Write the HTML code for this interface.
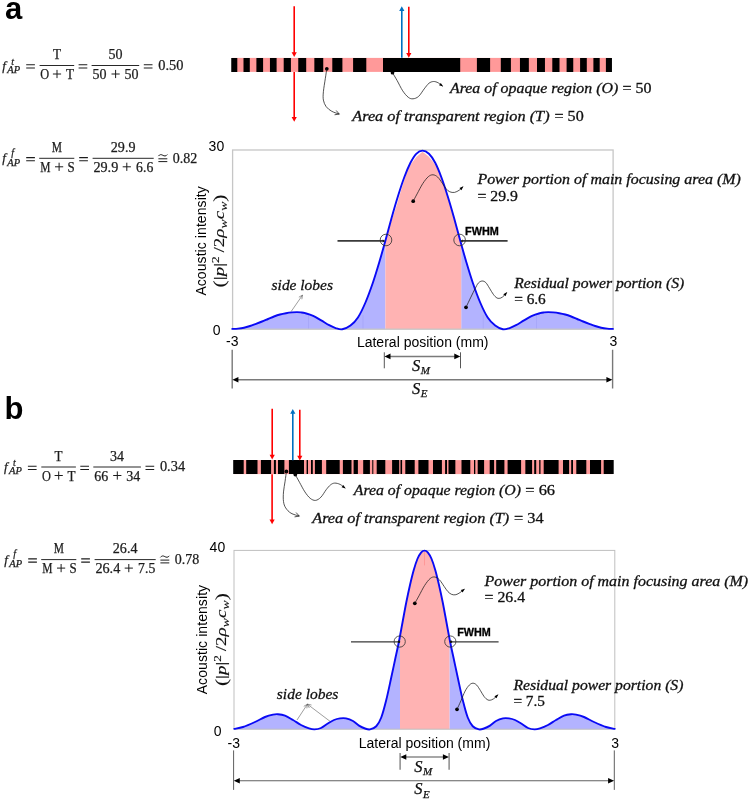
<!DOCTYPE html>
<html>
<head>
<meta charset="utf-8">
<title>Figure</title>
<style>
html, body { margin: 0; padding: 0; background: #ffffff; }
body { width: 750px; height: 800px; overflow: hidden; font-family: "Liberation Sans", sans-serif; }
svg { display: block; will-change: transform; }
text { white-space: pre; }
</style>
</head>
<body>
<svg width="750" height="800" viewBox="0 0 750 800">
<rect x="0" y="0" width="750" height="800" fill="#ffffff"/>
<rect x="232.25" y="57.9" width="378.7" height="14" fill="#ff9999"/>
<path d="M231.25 57.9H237.3V71.9H231.25ZM243.5 57.9H249.8V71.9H243.5ZM256.4 57.9H263.1V71.9H256.4ZM269.95 57.9H276.6V71.9H269.95ZM283.7 57.9H290.9V71.9H283.7ZM298.25 57.9H306.2V71.9H298.25ZM314.35 57.9H323.25V71.9H314.35ZM332.3 57.9H342.4V71.9H332.3ZM353.1 57.9H366.3V71.9H353.1ZM383 57.9H460.2V71.9H383ZM476.9 57.9H490.1V71.9H476.9ZM500.8 57.9H510.9V71.9H500.8ZM519.95 57.9H528.85V71.9H519.95ZM537 57.9H544.95V71.9H537ZM552.3 57.9H559.5V71.9H552.3ZM566.6 57.9H573.25V71.9H566.6ZM580.1 57.9H586.8V71.9H580.1ZM593.4 57.9H599.7V71.9H593.4ZM605.9 57.9H611.95V71.9H605.9Z" fill="#000"/>
<rect x="234.2" y="460.1" width="378.5" height="14" fill="#ff9999"/>
<path d="M233.2 460.1H243.7V474.1H233.2ZM246.2 460.1H257.5V474.1H246.2ZM260.9 460.1H271.1V474.1H260.9ZM273.9 460.1H275.9V474.1H273.9ZM278 460.1H284.4V474.1H278ZM288.9 460.1H304V474.1H288.9ZM306.6 460.1H308V474.1H306.6ZM311 460.1H312.8V474.1H311ZM314.9 460.1H321.9V474.1H314.9ZM326.2 460.1H339.7V474.1H326.2ZM342.9 460.1H351.5V474.1H342.9ZM353.6 460.1H357.9V474.1H353.6ZM363.2 460.1H369.9V474.1H363.2ZM372.3 460.1H373.3V474.1H372.3ZM376.7 460.1H385.3V474.1H376.7ZM392.1 460.1H399.2V474.1H392.1ZM400.5 460.1H402.1V474.1H400.5ZM405.3 460.1H414.7V474.1H405.3ZM418.4 460.1H428.5V474.1H418.4ZM433 460.1H441.9V474.1H433ZM445.1 460.1H447V474.1H445.1ZM448.5 460.1H455.35V474.1H448.5ZM461.5 460.1H470.3V474.1H461.5ZM474 460.1H475.3V474.1H474ZM477.7 460.1H484.1V474.1H477.7ZM489.7 460.1H494.1V474.1H489.7ZM496.2 460.1H504.4V474.1H496.2ZM507.6 460.1H521.1V474.1H507.6ZM525.35 460.1H532.1V474.1H525.35ZM534.2 460.1H536.2V474.1H534.2ZM539.2 460.1H540.5V474.1H539.2ZM543.7 460.1H558.6V474.1H543.7ZM563 460.1H569.1V474.1H563ZM571.2 460.1H573V474.1H571.2ZM576.3 460.1H586.3V474.1H576.3ZM590 460.1H601.1V474.1H590ZM603.7 460.1H613.7V474.1H603.7Z" fill="#000"/>
<path d="M294.2 6.2V54.18" stroke="#ff0000" stroke-width="1.6" fill="none"/>
<path d="M294.2 57L291.6 52.3L296.8 52.3Z" fill="#ff0000"/>
<path d="M294.2 72V118.98" stroke="#ff0000" stroke-width="1.6" fill="none"/>
<path d="M294.2 121.8L291.6 117.1L296.8 117.1Z" fill="#ff0000"/>
<path d="M401.8 57.8V9.12" stroke="#0070c0" stroke-width="1.6" fill="none"/>
<path d="M401.8 6.3L399.2 11L404.4 11Z" fill="#0070c0"/>
<path d="M408.8 6.8V54.98" stroke="#ff0000" stroke-width="1.6" fill="none"/>
<path d="M408.8 57.8L406.2 53.1L411.4 53.1Z" fill="#ff0000"/>
<path d="M272.2 408.8V456.58" stroke="#ff0000" stroke-width="1.6" fill="none"/>
<path d="M272.2 459.4L269.6 454.7L274.8 454.7Z" fill="#ff0000"/>
<path d="M272.1 474.2V521.38" stroke="#ff0000" stroke-width="1.6" fill="none"/>
<path d="M272.1 524.2L269.5 519.5L274.7 519.5Z" fill="#ff0000"/>
<path d="M292.8 460.2V411.82" stroke="#0070c0" stroke-width="1.6" fill="none"/>
<path d="M292.8 409L290.2 413.7L295.4 413.7Z" fill="#0070c0"/>
<path d="M299.8 409.8V457.58" stroke="#ff0000" stroke-width="1.6" fill="none"/>
<path d="M299.8 460.4L297.2 455.7L302.4 455.7Z" fill="#ff0000"/>
<path d="M232.3 328.9L232.64 328.88L233.07 328.87L233.58 328.85L234.16 328.83L234.78 328.81L235.42 328.78L236.09 328.74L236.75 328.7L237.39 328.66L238 328.6L238.59 328.54L239.18 328.47L239.78 328.4L240.38 328.32L240.98 328.24L241.59 328.15L242.19 328.05L242.8 327.94L243.4 327.83L244 327.7L244.6 327.56L245.2 327.42L245.8 327.26L246.4 327.1L247 326.93L247.6 326.75L248.2 326.57L248.8 326.38L249.4 326.19L250 326L250.6 325.8L251.2 325.59L251.8 325.38L252.4 325.16L253 324.94L253.6 324.71L254.2 324.48L254.8 324.25L255.4 324.03L256 323.8L256.6 323.57L257.2 323.35L257.8 323.12L258.4 322.9L259 322.67L259.6 322.44L260.2 322.21L260.8 321.97L261.4 321.74L262 321.5L262.6 321.26L263.2 321.01L263.8 320.76L264.4 320.51L265 320.26L265.6 320.01L266.2 319.76L266.8 319.5L267.4 319.25L268 319L268.6 318.75L269.2 318.49L269.8 318.23L270.4 317.98L271 317.72L271.6 317.46L272.2 317.21L272.8 316.97L273.4 316.73L274 316.5L274.6 316.28L275.2 316.06L275.8 315.84L276.4 315.63L277 315.43L277.6 315.23L278.2 315.03L278.8 314.85L279.4 314.67L280 314.5L280.6 314.34L281.2 314.19L281.8 314.04L282.4 313.91L283 313.77L283.6 313.65L284.2 313.53L284.8 313.42L285.4 313.31L286 313.2L286.6 313.1L287.22 313L287.83 312.91L288.45 312.82L289.06 312.74L289.67 312.66L290.27 312.59L290.86 312.52L291.44 312.46L292 312.4L292.55 312.35L293.08 312.3L293.6 312.25L294.12 312.22L294.62 312.18L295.12 312.15L295.6 312.13L296.08 312.11L296.55 312.1L297 312.1L297.44 312.1L297.86 312.11L298.27 312.13L298.66 312.15L299.05 312.18L299.43 312.22L299.82 312.25L300.2 312.3L300.6 312.35L301 312.4L301.39 312.45L301.77 312.5L302.13 312.54L302.48 312.59L302.85 312.65L303.24 312.72L303.65 312.8L304.11 312.91L304.63 313.04L305.2 313.2L305.85 313.38L306.56 313.59L307.32 313.81L308.13 314.06L308.96 314.32L309.82 314.6L310.68 314.9L311.54 315.21L312.38 315.55L313.2 315.9L314 316.28L314.8 316.68L315.6 317.11L316.4 317.56L317.2 318.02L318 318.49L318.8 318.97L319.6 319.45L320.4 319.93L321.2 320.4L322.01 320.88L322.83 321.37L323.65 321.88L324.48 322.39L325.3 322.9L326.12 323.4L326.92 323.89L327.7 324.36L328.46 324.8L329.2 325.2L329.9 325.57L330.58 325.93L331.23 326.26L331.86 326.58L332.48 326.88L333.1 327.15L333.71 327.41L334.33 327.66L334.96 327.89L335.6 328.1L336.25 328.31L336.9 328.53L337.54 328.74L338.19 328.94L338.84 329.11L339.5 329.25L340.17 329.35L340.86 329.4L341.57 329.39L342.3 329.3L343.06 329.15L343.85 328.94L344.66 328.69L345.49 328.38L346.32 328.03L347.17 327.63L348.01 327.19L348.84 326.7L349.65 326.17L350.45 325.6L351.23 325L351.99 324.37L352.75 323.71L353.5 323.01L354.24 322.26L354.98 321.45L355.72 320.58L356.46 319.63L357.2 318.61L357.95 317.5L358.7 316.3L359.45 315.02L360.2 313.66L360.95 312.24L361.7 310.74L362.45 309.19L363.2 307.58L363.95 305.93L364.7 304.23L365.45 302.5L366.21 300.7L366.97 298.82L367.74 296.87L368.51 294.86L369.28 292.81L370.04 290.74L370.79 288.66L371.53 286.58L372.25 284.52L372.95 282.5L373.63 280.51L374.28 278.53L374.92 276.56L375.54 274.6L376.15 272.62L376.76 270.64L377.36 268.65L377.97 266.63L378.58 264.58L379.2 262.5L379.83 260.39L380.45 258.24L381.07 256.08L381.7 253.89L382.32 251.69L382.95 249.47L383.57 247.24L384.2 245L384.83 242.75L385.4 240.5L385.4 329.2L232.3 329.2Z" fill="#b3b3ff"/>
<path d="M461.2 240.5L461.45 245L462.07 247.24L462.7 249.47L463.33 251.69L463.95 253.89L464.57 256.08L465.2 258.24L465.83 260.39L466.45 262.5L467.07 264.58L467.68 266.63L468.29 268.65L468.89 270.64L469.5 272.62L470.11 274.6L470.73 276.56L471.37 278.53L472.02 280.51L472.7 282.5L473.4 284.52L474.12 286.58L474.86 288.66L475.61 290.74L476.37 292.81L477.14 294.86L477.91 296.87L478.68 298.82L479.44 300.7L480.2 302.5L480.95 304.23L481.7 305.93L482.45 307.58L483.2 309.19L483.95 310.74L484.7 312.24L485.45 313.66L486.2 315.02L486.95 316.3L487.7 317.5L488.45 318.61L489.2 319.63L489.94 320.58L490.69 321.45L491.44 322.26L492.19 323.01L492.94 323.71L493.69 324.37L494.44 325L495.2 325.6L495.97 326.17L496.74 326.7L497.53 327.19L498.31 327.63L499.1 328.03L499.88 328.38L500.66 328.69L501.42 328.94L502.17 329.15L502.9 329.3L503.61 329.39L504.31 329.4L504.99 329.35L505.67 329.25L506.33 329.11L506.99 328.94L507.64 328.74L508.3 328.53L508.95 328.31L509.6 328.1L510.24 327.89L510.87 327.66L511.49 327.41L512.1 327.15L512.72 326.88L513.34 326.58L513.97 326.26L514.62 325.93L515.3 325.57L516 325.2L516.74 324.8L517.5 324.36L518.28 323.89L519.08 323.4L519.9 322.9L520.72 322.39L521.55 321.88L522.37 321.37L523.19 320.88L524 320.4L524.8 319.93L525.6 319.45L526.4 318.97L527.2 318.49L528 318.02L528.8 317.56L529.6 317.11L530.4 316.68L531.2 316.28L532 315.9L532.82 315.55L533.66 315.21L534.52 314.9L535.38 314.6L536.24 314.32L537.07 314.06L537.88 313.81L538.64 313.59L539.35 313.38L540 313.2L540.57 313.04L541.09 312.91L541.55 312.8L541.96 312.72L542.35 312.65L542.72 312.59L543.07 312.54L543.43 312.5L543.81 312.45L544.2 312.4L544.6 312.35L545 312.3L545.38 312.25L545.77 312.22L546.15 312.18L546.54 312.15L546.93 312.13L547.34 312.11L547.76 312.1L548.2 312.1L548.66 312.1L549.12 312.11L549.6 312.13L550.08 312.15L550.58 312.18L551.08 312.22L551.6 312.25L552.12 312.3L552.65 312.35L553.2 312.4L553.76 312.46L554.34 312.52L554.93 312.59L555.53 312.66L556.14 312.74L556.75 312.82L557.37 312.91L557.98 313L558.6 313.1L559.2 313.2L559.8 313.31L560.4 313.42L561 313.53L561.6 313.65L562.2 313.77L562.8 313.91L563.4 314.04L564 314.19L564.6 314.34L565.2 314.5L565.8 314.67L566.4 314.85L567 315.03L567.6 315.23L568.2 315.43L568.8 315.63L569.4 315.84L570 316.06L570.6 316.28L571.2 316.5L571.8 316.73L572.4 316.97L573 317.21L573.6 317.46L574.2 317.72L574.8 317.98L575.4 318.23L576 318.49L576.6 318.75L577.2 319L577.8 319.25L578.4 319.5L579 319.76L579.6 320.01L580.2 320.26L580.8 320.51L581.4 320.76L582 321.01L582.6 321.26L583.2 321.5L583.8 321.74L584.4 321.97L585 322.21L585.6 322.44L586.2 322.67L586.8 322.9L587.4 323.12L588 323.35L588.6 323.57L589.2 323.8L589.8 324.03L590.4 324.25L591 324.48L591.6 324.71L592.2 324.94L592.8 325.16L593.4 325.38L594 325.59L594.6 325.8L595.2 326L595.8 326.19L596.4 326.38L597 326.57L597.6 326.75L598.2 326.93L598.8 327.1L599.4 327.26L600 327.42L600.6 327.56L601.2 327.7L601.8 327.83L602.4 327.94L603.01 328.05L603.61 328.15L604.22 328.24L604.82 328.32L605.42 328.4L606.02 328.47L606.61 328.54L607.2 328.6L607.81 328.66L608.45 328.7L609.11 328.74L609.78 328.78L610.43 328.81L611.04 328.83L611.62 328.85L612.13 328.87L612.56 328.88L612.9 328.9L612.9 329.2L461.2 329.2Z" fill="#b3b3ff"/>
<path d="M308.4 315.2V329.2" stroke="#9c9cf2" stroke-width="0.7" opacity="0.7"/>
<path d="M363 315.2V329.2" stroke="#9c9cf2" stroke-width="0.7" opacity="0.7"/>
<path d="M483.2 315.2V329.2" stroke="#9c9cf2" stroke-width="0.7" opacity="0.7"/>
<path d="M536.6 315.2V329.2" stroke="#9c9cf2" stroke-width="0.7" opacity="0.7"/>
<path d="M385.4 329.2L385.4 240.5L390.4 224L396.8 205L402.2 186.5L407.4 170.5L411.6 163.2L416.4 157L422.5 151.8L428.6 156.6L433.4 162.2L438 168.6L443.5 184L449.5 203.5L455.6 224.5L461.2 240.5L461.2 329.2Z" fill="#ffb3b3"/>
<rect x="232.6" y="150" width="380.5" height="179.2" fill="none" stroke="#c6c6c6" stroke-width="1.3"/>
<path d="M232.3 328.9C233.25 328.85 236.05 328.8 238 328.6C239.95 328.4 242 328.13 244 327.7C246 327.27 248 326.65 250 326C252 325.35 254 324.55 256 323.8C258 323.05 260 322.3 262 321.5C264 320.7 266 319.83 268 319C270 318.17 272 317.25 274 316.5C276 315.75 278 315.05 280 314.5C282 313.95 284 313.55 286 313.2C288 312.85 290.17 312.58 292 312.4C293.83 312.22 295.5 312.1 297 312.1C298.5 312.1 299.63 312.22 301 312.4C302.37 312.58 303.17 312.62 305.2 313.2C307.23 313.78 310.53 314.7 313.2 315.9C315.87 317.1 318.53 318.85 321.2 320.4C323.87 321.95 326.8 323.92 329.2 325.2C331.6 326.48 333.42 327.42 335.6 328.1C337.78 328.78 339.83 329.72 342.3 329.3C344.77 328.88 347.84 327.57 350.45 325.6C353.06 323.63 355.45 321.35 357.95 317.5C360.45 313.65 362.95 308.33 365.45 302.5C367.95 296.67 370.66 289.17 372.95 282.5C375.24 275.83 377.12 269.5 379.2 262.5C381.28 255.5 383.37 248 385.45 240.5C387.53 233 389.62 224.88 391.7 217.5C393.78 210.12 395.87 202.92 397.95 196.25C400.03 189.58 402.12 183.07 404.2 177.5C406.28 171.93 408.44 166.75 410.45 162.8C412.46 158.85 414.24 155.83 416.25 153.8C418.26 151.77 420.38 150.6 422.5 150.6C424.62 150.6 426.83 151.77 428.95 153.8C431.07 155.83 433.12 158.85 435.2 162.8C437.28 166.75 439.37 171.93 441.45 177.5C443.53 183.07 445.62 189.58 447.7 196.25C449.78 202.92 451.87 210.12 453.95 217.5C456.03 224.88 458.12 233 460.2 240.5C462.28 248 464.37 255.5 466.45 262.5C468.53 269.5 470.41 275.83 472.7 282.5C474.99 289.17 477.7 296.67 480.2 302.5C482.7 308.33 485.2 313.65 487.7 317.5C490.2 321.35 492.67 323.63 495.2 325.6C497.73 327.57 500.5 328.88 502.9 329.3C505.3 329.72 507.42 328.78 509.6 328.1C511.78 327.42 513.6 326.48 516 325.2C518.4 323.92 521.33 321.95 524 320.4C526.67 318.85 529.33 317.1 532 315.9C534.67 314.7 537.97 313.78 540 313.2C542.03 312.62 542.83 312.58 544.2 312.4C545.57 312.22 546.7 312.1 548.2 312.1C549.7 312.1 551.37 312.22 553.2 312.4C555.03 312.58 557.2 312.85 559.2 313.2C561.2 313.55 563.2 313.95 565.2 314.5C567.2 315.05 569.2 315.75 571.2 316.5C573.2 317.25 575.2 318.17 577.2 319C579.2 319.83 581.2 320.7 583.2 321.5C585.2 322.3 587.2 323.05 589.2 323.8C591.2 324.55 593.2 325.35 595.2 326C597.2 326.65 599.2 327.27 601.2 327.7C603.2 328.13 605.25 328.4 607.2 328.6C609.15 328.8 611.95 328.85 612.9 328.9" fill="none" stroke="#0a0af5" stroke-width="1.9" stroke-linejoin="round" stroke-linecap="round"/>
<path d="M234.3 728.9L234.8 728.8L235.43 728.69L236.17 728.57L237 728.43L237.9 728.26L238.86 728.07L239.87 727.86L240.91 727.61L241.96 727.32L243 727L244.08 726.63L245.22 726.2L246.42 725.73L247.66 725.22L248.92 724.69L250.19 724.15L251.44 723.6L252.68 723.05L253.87 722.51L255 722L256.09 721.49L257.16 720.96L258.21 720.42L259.24 719.88L260.25 719.34L261.24 718.81L262.21 718.31L263.16 717.83L264.09 717.39L265 717L265.89 716.65L266.78 716.32L267.64 716.03L268.49 715.76L269.31 715.51L270.11 715.29L270.88 715.09L271.62 714.91L272.33 714.75L273 714.6L273.61 714.47L274.16 714.36L274.66 714.28L275.12 714.21L275.56 714.16L276 714.13L276.45 714.12L276.92 714.13L277.43 714.16L278 714.2L278.61 714.25L279.26 714.32L279.92 714.39L280.61 714.49L281.31 714.6L282.03 714.74L282.76 714.9L283.5 715.1L284.25 715.33L285 715.6L285.76 715.92L286.54 716.28L287.33 716.68L288.13 717.12L288.94 717.58L289.75 718.05L290.57 718.54L291.38 719.03L292.2 719.52L293 720L293.8 720.48L294.6 720.99L295.4 721.51L296.2 722.03L297 722.56L297.8 723.09L298.6 723.6L299.4 724.09L300.2 724.56L301 725L301.81 725.42L302.64 725.82L303.48 726.21L304.32 726.59L305.16 726.95L305.98 727.29L306.78 727.61L307.56 727.9L308.3 728.16L309 728.4L309.65 728.61L310.24 728.79L310.8 728.95L311.33 729.09L311.84 729.2L312.35 729.29L312.86 729.35L313.38 729.39L313.92 729.41L314.5 729.4L315.11 729.37L315.74 729.32L316.39 729.24L317.05 729.14L317.72 729.01L318.39 728.86L319.06 728.69L319.72 728.48L320.37 728.26L321 728L321.62 727.71L322.22 727.37L322.81 726.99L323.39 726.59L323.97 726.16L324.55 725.72L325.14 725.28L325.74 724.84L326.36 724.41L327 724L327.66 723.59L328.35 723.16L329.06 722.72L329.78 722.28L330.5 721.85L331.22 721.43L331.94 721.02L332.65 720.65L333.34 720.3L334 720L334.64 719.74L335.26 719.5L335.87 719.29L336.47 719.11L337.06 718.95L337.65 718.81L338.23 718.69L338.82 718.58L339.4 718.48L340 718.4L340.6 718.32L341.18 718.26L341.77 718.2L342.35 718.16L342.94 718.14L343.53 718.14L344.13 718.16L344.74 718.21L345.36 718.29L346 718.4L346.66 718.55L347.35 718.72L348.06 718.93L348.78 719.16L349.5 719.41L350.22 719.69L350.94 719.99L351.65 720.31L352.34 720.65L353 721L353.64 721.39L354.26 721.82L354.87 722.29L355.47 722.78L356.06 723.28L356.65 723.79L357.23 724.28L357.82 724.76L358.4 725.2L359 725.6L359.6 725.97L360.22 726.32L360.83 726.66L361.45 726.98L362.06 727.28L362.67 727.57L363.27 727.83L363.86 728.08L364.44 728.3L365 728.5L365.53 728.69L366.04 728.87L366.53 729.04L367.01 729.2L367.48 729.33L367.96 729.43L368.44 729.49L368.94 729.51L369.45 729.48L370 729.4L370.58 729.27L371.19 729.12L371.82 728.93L372.47 728.7L373.12 728.43L373.78 728.11L374.43 727.73L375.06 727.3L375.67 726.81L376.25 726.25L376.8 725.64L377.33 725L377.84 724.31L378.34 723.57L378.83 722.77L379.31 721.9L379.79 720.94L380.27 719.9L380.76 718.75L381.25 717.5L381.75 716.13L382.25 714.64L382.75 713.05L383.25 711.37L383.75 709.61L384.25 707.78L384.75 705.89L385.25 703.96L385.75 701.99L386.25 700L386.76 697.93L387.27 695.74L387.79 693.46L388.31 691.12L388.83 688.75L389.34 686.38L389.84 684.04L390.33 681.76L390.8 679.57L391.25 677.5L391.68 675.55L392.08 673.68L392.47 671.88L392.84 670.14L393.2 668.44L393.56 666.76L393.91 665.09L394.27 663.42L394.63 661.73L395 660L395.38 658.26L395.75 656.54L396.12 654.83L396.5 653.12L396.88 651.41L397.25 649.68L397.62 647.93L398 646.16L398.38 644.35L398.75 642.5L399.12 640.6L399.5 638.66L399.87 636.68L400 641.5L400 729.2L234.3 729.2Z" fill="#b3b3ff"/>
<path d="M449.4 641.5L449.5 638.66L449.88 640.6L450.25 642.5L450.63 644.35L451 646.16L451.37 647.93L451.75 649.68L452.12 651.41L452.5 653.12L452.88 654.83L453.25 656.54L453.63 658.26L454 660L454.37 661.73L454.73 663.42L455.09 665.09L455.44 666.76L455.8 668.44L456.16 670.14L456.53 671.88L456.92 673.68L457.32 675.55L457.75 677.5L458.2 679.57L458.67 681.76L459.16 684.04L459.66 686.38L460.17 688.75L460.69 691.12L461.21 693.46L461.73 695.74L462.24 697.93L462.75 700L463.25 701.99L463.75 703.96L464.25 705.89L464.75 707.78L465.25 709.61L465.75 711.37L466.25 713.05L466.75 714.64L467.25 716.13L467.75 717.5L468.24 718.75L468.73 719.9L469.21 720.94L469.69 721.9L470.17 722.77L470.66 723.57L471.16 724.31L471.67 725L472.2 725.64L472.75 726.25L473.33 726.81L473.94 727.3L474.57 727.73L475.22 728.11L475.88 728.43L476.53 728.7L477.18 728.93L477.81 729.12L478.42 729.27L479 729.4L479.55 729.48L480.06 729.51L480.56 729.49L481.04 729.43L481.52 729.33L481.99 729.2L482.47 729.04L482.96 728.87L483.47 728.69L484 728.5L484.56 728.3L485.14 728.08L485.73 727.83L486.33 727.57L486.94 727.28L487.55 726.98L488.17 726.66L488.78 726.32L489.4 725.97L490 725.6L490.6 725.2L491.18 724.76L491.77 724.28L492.35 723.79L492.94 723.28L493.53 722.78L494.13 722.29L494.74 721.82L495.36 721.39L496 721L496.66 720.65L497.35 720.31L498.06 719.99L498.78 719.69L499.5 719.41L500.22 719.16L500.94 718.93L501.65 718.72L502.34 718.55L503 718.4L503.64 718.29L504.26 718.21L504.87 718.16L505.47 718.14L506.06 718.14L506.65 718.16L507.23 718.2L507.82 718.26L508.4 718.32L509 718.4L509.6 718.48L510.18 718.58L510.77 718.69L511.35 718.81L511.94 718.95L512.53 719.11L513.13 719.29L513.74 719.5L514.36 719.74L515 720L515.66 720.3L516.35 720.65L517.06 721.02L517.78 721.43L518.5 721.85L519.22 722.28L519.94 722.72L520.65 723.16L521.34 723.59L522 724L522.64 724.41L523.26 724.84L523.86 725.28L524.45 725.72L525.03 726.16L525.61 726.59L526.19 726.99L526.78 727.37L527.38 727.71L528 728L528.63 728.26L529.28 728.48L529.94 728.69L530.61 728.86L531.28 729.01L531.95 729.14L532.61 729.24L533.26 729.32L533.89 729.37L534.5 729.4L535.08 729.41L535.62 729.39L536.14 729.35L536.65 729.29L537.16 729.2L537.67 729.09L538.2 728.95L538.76 728.79L539.35 728.61L540 728.4L540.7 728.16L541.44 727.9L542.22 727.61L543.02 727.29L543.84 726.95L544.68 726.59L545.52 726.21L546.36 725.82L547.19 725.42L548 725L548.8 724.56L549.6 724.09L550.4 723.6L551.2 723.09L552 722.56L552.8 722.03L553.6 721.51L554.4 720.99L555.2 720.48L556 720L556.8 719.52L557.62 719.03L558.43 718.54L559.25 718.05L560.06 717.58L560.87 717.12L561.67 716.68L562.46 716.28L563.24 715.92L564 715.6L564.75 715.33L565.5 715.1L566.24 714.9L566.97 714.74L567.69 714.6L568.39 714.49L569.08 714.39L569.74 714.32L570.39 714.25L571 714.2L571.57 714.16L572.08 714.13L572.55 714.12L573 714.13L573.44 714.16L573.88 714.21L574.34 714.28L574.84 714.36L575.39 714.47L576 714.6L576.67 714.75L577.38 714.91L578.12 715.09L578.89 715.29L579.69 715.51L580.51 715.76L581.36 716.03L582.22 716.32L583.11 716.65L584 717L584.91 717.39L585.84 717.83L586.79 718.31L587.76 718.81L588.75 719.34L589.76 719.88L590.79 720.42L591.84 720.96L592.91 721.49L594 722L595.13 722.51L596.32 723.05L597.56 723.6L598.81 724.15L600.08 724.69L601.34 725.22L602.58 725.73L603.78 726.2L604.92 726.63L606 727L607.04 727.32L608.09 727.61L609.13 727.86L610.14 728.07L611.1 728.26L612 728.43L612.83 728.57L613.57 728.69L614.2 728.8L614.7 728.9L614.7 729.2L449.4 729.2Z" fill="#b3b3ff"/>
<path d="M400 729.2L400 641.5L400.25 635.28L400.62 633.26L401 631.22L401.38 629.18L401.75 627.14L402.12 625.11L402.5 623.1L402.88 621.09L403.25 619.06L403.62 617.02L404 614.98L404.38 612.94L404.75 610.92L405.12 608.92L405.5 606.94L405.88 605L406.25 603.1L406.63 601.24L407 599.4L407.37 597.59L407.75 595.8L408.12 594.04L408.5 592.3L408.88 590.59L409.25 588.9L409.62 587.24L410 585.6L410.38 583.98L410.75 582.38L411.12 580.8L411.5 579.24L411.88 577.71L412.25 576.21L412.62 574.75L413 573.32L413.38 571.94L413.75 570.6L414.13 569.3L414.5 568.03L414.87 566.8L415.25 565.6L415.62 564.44L416 563.32L416.38 562.25L416.75 561.23L417.12 560.26L417.5 559.35L417.88 558.49L418.26 557.68L418.64 556.91L419.02 556.2L419.41 555.53L419.79 554.91L420.16 554.33L420.53 553.81L420.9 553.33L421.25 552.9L421.6 552.52L421.93 552.2L422.26 551.93L422.59 551.71L422.91 551.54L423.22 551.41L423.54 551.31L423.86 551.25L424.18 551.21L424.5 551.2L424.82 551.21L425.14 551.25L425.46 551.31L425.78 551.41L426.09 551.54L426.41 551.71L426.74 551.93L427.07 552.2L427.4 552.52L427.75 552.9L428.1 553.33L428.47 553.81L428.84 554.33L429.21 554.91L429.59 555.53L429.98 556.2L430.36 556.91L430.74 557.68L431.12 558.49L431.5 559.35L431.88 560.26L432.25 561.23L432.62 562.25L433 563.32L433.38 564.44L433.75 565.6L434.12 566.8L434.5 568.03L434.88 569.3L435.25 570.6L435.63 571.94L436 573.32L436.37 574.75L436.75 576.21L437.12 577.71L437.5 579.24L437.88 580.8L438.25 582.38L438.63 583.98L439 585.6L439.38 587.24L439.75 588.9L440.12 590.59L440.5 592.3L440.88 594.04L441.25 595.8L441.62 597.59L442 599.4L442.38 601.24L442.75 603.1L443.13 605L443.5 606.94L443.87 608.92L444.25 610.92L444.62 612.94L445 614.98L445.38 617.02L445.75 619.06L446.12 621.09L446.5 623.1L446.88 625.11L447.25 627.14L447.62 629.18L448 631.22L448.38 633.26L448.75 635.28L449.12 637.28L449.4 641.5L449.4 729.2Z" fill="#ffb3b3"/>
<rect x="234" y="550.4" width="380.8" height="178.8" fill="none" stroke="#bfbfbf" stroke-width="1"/>
<path d="M424.5 551.9V565.4" stroke="#ff8c8c" stroke-width="0.7"/>
<path d="M234.3 728.9C235.75 728.58 239.55 728.15 243 727C246.45 725.85 251.33 723.67 255 722C258.67 720.33 262 718.23 265 717C268 715.77 270.83 715.07 273 714.6C275.17 714.13 276 714.03 278 714.2C280 714.37 282.5 714.63 285 715.6C287.5 716.57 290.33 718.43 293 720C295.67 721.57 298.33 723.6 301 725C303.67 726.4 306.75 727.67 309 728.4C311.25 729.13 312.5 729.47 314.5 729.4C316.5 729.33 318.92 728.9 321 728C323.08 727.1 324.83 725.33 327 724C329.17 722.67 331.83 720.93 334 720C336.17 719.07 338 718.67 340 718.4C342 718.13 343.83 717.97 346 718.4C348.17 718.83 350.83 719.8 353 721C355.17 722.2 357 724.35 359 725.6C361 726.85 363.17 727.87 365 728.5C366.83 729.13 368.12 729.77 370 729.4C371.88 729.02 374.38 728.23 376.25 726.25C378.12 724.27 379.58 721.88 381.25 717.5C382.92 713.12 384.58 706.67 386.25 700C387.92 693.33 389.79 684.17 391.25 677.5C392.71 670.83 393.75 665.83 395 660C396.25 654.17 397.5 648.75 398.75 642.5C400 636.25 401.25 629.17 402.5 622.5C403.75 615.83 405 608.75 406.25 602.5C407.5 596.25 408.75 590.42 410 585C411.25 579.58 412.5 574.38 413.75 570C415 565.62 416.25 561.7 417.5 558.75C418.75 555.8 420.08 553.66 421.25 552.3C422.42 550.94 423.42 550.6 424.5 550.6C425.58 550.6 426.58 550.94 427.75 552.3C428.92 553.66 430.25 555.8 431.5 558.75C432.75 561.7 434 565.62 435.25 570C436.5 574.38 437.75 579.58 439 585C440.25 590.42 441.5 596.25 442.75 602.5C444 608.75 445.25 615.83 446.5 622.5C447.75 629.17 449 636.25 450.25 642.5C451.5 648.75 452.75 654.17 454 660C455.25 665.83 456.29 670.83 457.75 677.5C459.21 684.17 461.08 693.33 462.75 700C464.42 706.67 466.08 713.12 467.75 717.5C469.42 721.88 470.88 724.27 472.75 726.25C474.62 728.23 477.12 729.02 479 729.4C480.88 729.77 482.17 729.13 484 728.5C485.83 727.87 488 726.85 490 725.6C492 724.35 493.83 722.2 496 721C498.17 719.8 500.83 718.83 503 718.4C505.17 717.97 507 718.13 509 718.4C511 718.67 512.83 719.07 515 720C517.17 720.93 519.83 722.67 522 724C524.17 725.33 525.92 727.1 528 728C530.08 728.9 532.5 729.33 534.5 729.4C536.5 729.47 537.75 729.13 540 728.4C542.25 727.67 545.33 726.4 548 725C550.67 723.6 553.33 721.57 556 720C558.67 718.43 561.5 716.57 564 715.6C566.5 714.63 569 714.37 571 714.2C573 714.03 573.83 714.13 576 714.6C578.17 715.07 581 715.77 584 717C587 718.23 590.33 720.33 594 722C597.67 723.67 602.55 725.85 606 727C609.45 728.15 613.25 728.58 614.7 728.9" fill="none" stroke="#0a0af5" stroke-width="1.9" stroke-linejoin="round" stroke-linecap="round"/>
<circle cx="326.8" cy="68.8" r="1.85" fill="#000"/>
<path d="M326.8 68.8C326.55 70.45 325.87 74.88 325.3 78.7C324.73 82.52 323.72 88.13 323.4 91.7C323.08 95.27 322.93 97.6 323.4 100.1C323.87 102.6 324.8 104.83 326.2 106.7C327.6 108.57 329.62 110.07 331.8 111.3C333.98 112.53 338.05 113.63 339.3 114.1" fill="none" stroke="#1a1a1a" stroke-width="0.75"/>
<path d="M334.55 114.78L339.3 114.1L336.16 110.47" fill="none" stroke="#1a1a1a" stroke-width="0.75"/>
<circle cx="392.5" cy="72.7" r="1.85" fill="#000"/>
<path d="M392.5 72.7C393.27 74 395.4 77.48 397.1 80.5C398.8 83.52 400.83 88 402.7 90.8C404.57 93.6 406.58 95.97 408.3 97.3C410.02 98.63 411.28 98.95 413 98.8C414.72 98.65 416.73 98.05 418.6 96.4C420.47 94.75 422.48 91.08 424.2 88.9C425.92 86.72 427.35 84.53 428.9 83.3C430.45 82.07 431.95 81.58 433.5 81.5C435.05 81.42 436.7 82.03 438.2 82.8C439.7 83.57 441.78 85.55 442.5 86.1" fill="none" stroke="#1a1a1a" stroke-width="0.75"/>
<path d="M443.13 86.59L439 85.26L440.79 82.93Z" fill="#000"/>
<circle cx="413.2" cy="201.2" r="1.85" fill="#000"/>
<path d="M413.2 201.2C413.85 199.98 415.52 196.82 417.1 193.9C418.68 190.98 420.83 186.57 422.7 183.7C424.57 180.83 426.58 178.18 428.3 176.7C430.02 175.22 431.43 174.73 433 174.8C434.57 174.87 436.15 175.7 437.7 177.1C439.25 178.5 440.9 181.25 442.3 183.2C443.7 185.15 444.85 187.37 446.1 188.8C447.35 190.23 448.4 191.2 449.8 191.8C451.2 192.4 452.93 192.67 454.5 192.4C456.07 192.13 457.8 191.12 459.2 190.2C460.6 189.28 462.28 187.45 462.9 186.9" fill="none" stroke="#1a1a1a" stroke-width="0.75"/>
<path d="M463.5 186.37L461.42 190.18L459.47 187.99Z" fill="#000"/>
<circle cx="466" cy="307.3" r="1.85" fill="#000"/>
<path d="M466 307.3C466.82 305.6 469.38 300.2 470.9 297.1C472.42 294 473.87 291.03 475.1 288.7C476.33 286.37 477.13 284.38 478.3 283.1C479.47 281.82 480.85 281.08 482.1 281C483.35 280.92 484.57 281.4 485.8 282.6C487.03 283.8 488.25 286.25 489.5 288.2C490.75 290.15 492.05 292.67 493.3 294.3C494.55 295.93 495.75 297.38 497 298C498.25 298.62 499.63 298.38 500.8 298C501.97 297.62 503.03 296.58 504 295.7C504.97 294.82 506.17 293.2 506.6 292.7" fill="none" stroke="#1a1a1a" stroke-width="0.75"/>
<path d="M507.12 292.1L505.56 296.15L503.34 294.22Z" fill="#000"/>
<circle cx="286.4" cy="471.4" r="1.85" fill="#000"/>
<path d="M286.4 471.4C286.18 473.03 285.58 477.78 285.1 481.2C284.62 484.62 283.77 488.52 283.5 491.9C283.23 495.28 283.13 498.83 283.5 501.5C283.87 504.17 284.45 505.95 285.7 507.9C286.95 509.85 288.73 511.83 291 513.2C293.27 514.57 297.92 515.62 299.3 516.1" fill="none" stroke="#1a1a1a" stroke-width="0.75"/>
<path d="M294.56 516.88L299.3 516.1L296.08 512.54" fill="none" stroke="#1a1a1a" stroke-width="0.75"/>
<circle cx="295.3" cy="474.6" r="1.85" fill="#000"/>
<path d="M295.3 474.6C296 475.88 297.9 479.42 299.5 482.3C301.1 485.18 303.12 489.23 304.9 491.9C306.68 494.57 308.43 496.88 310.2 498.3C311.97 499.72 313.72 500.58 315.5 500.4C317.28 500.22 319.12 498.98 320.9 497.2C322.68 495.42 324.6 491.75 326.2 489.7C327.8 487.65 329.08 486 330.5 484.9C331.92 483.8 333.1 483.18 334.7 483.1C336.3 483.02 338.37 483.57 340.1 484.4C341.83 485.23 344.27 487.48 345.1 488.1" fill="none" stroke="#1a1a1a" stroke-width="0.75"/>
<path d="M345.74 488.58L341.58 487.32L343.33 484.96Z" fill="#000"/>
<circle cx="414.8" cy="603.3" r="1.85" fill="#000"/>
<path d="M414.8 603.3C415.5 602.05 417.37 598.77 419 595.8C420.63 592.83 422.73 588.38 424.6 585.5C426.47 582.62 428.48 579.92 430.2 578.5C431.92 577.08 433.35 576.77 434.9 577C436.45 577.23 437.95 578.32 439.5 579.9C441.05 581.48 442.8 584.55 444.2 586.5C445.6 588.45 446.65 590.28 447.9 591.6C449.15 592.92 450.37 593.88 451.7 594.4C453.03 594.92 454.5 595.02 455.9 594.7C457.3 594.38 458.7 593.4 460.1 592.5C461.5 591.6 463.6 589.83 464.3 589.3" fill="none" stroke="#1a1a1a" stroke-width="0.75"/>
<path d="M464.94 588.82L462.57 592.46L460.8 590.12Z" fill="#000"/>
<circle cx="457" cy="709.3" r="1.85" fill="#000"/>
<path d="M457 709.3C457.65 707.9 459.55 703.93 460.9 700.9C462.25 697.87 463.7 693.73 465.1 691.1C466.5 688.47 467.98 686.42 469.3 685.1C470.62 683.78 471.77 683.2 473 683.2C474.23 683.2 475.45 683.85 476.7 685.1C477.95 686.35 479.25 688.77 480.5 690.7C481.75 692.63 482.95 695.15 484.2 696.7C485.45 698.25 486.75 699.48 488 700C489.25 700.52 490.53 700.18 491.7 699.8C492.87 699.42 493.98 698.52 495 697.7C496.02 696.88 497.33 695.37 497.8 694.9" fill="none" stroke="#1a1a1a" stroke-width="0.75"/>
<path d="M498.37 694.33L496.51 698.26L494.44 696.19Z" fill="#000"/>
<path d="M291.1 311.6L302.5 295.1M301.85 299.25L302.5 295.1L298.85 297.17" fill="none" stroke="#4d4d4d" stroke-width="0.55"/>
<path d="M297 720L307.4 704.2M306.85 708.36L307.4 704.2L303.79 706.35" fill="none" stroke="#4d4d4d" stroke-width="0.55"/>
<path d="M330.4 721.6L307.4 704.2M311.52 705.02L307.4 704.2L309.31 707.94" fill="none" stroke="#4d4d4d" stroke-width="0.55"/>
<path d="M337.5 240.9H383.9M461.5 240.9H507.6" stroke="#3a3a3a" stroke-width="1.6" fill="none"/>
<path d="M385.4 240.9L382.7 239.4L382.7 242.4ZM460 240.9L462.7 239.4L462.7 242.4Z" fill="#222"/>
<circle cx="386" cy="240" r="5.8" fill="none" stroke="#2e2e2e" stroke-width="0.8"/>
<circle cx="459.6" cy="240" r="5.8" fill="none" stroke="#2e2e2e" stroke-width="0.8"/>
<path d="M351 641.75H398.4M451.6 641.75H498.6" stroke="#3a3a3a" stroke-width="1.25" fill="none"/>
<circle cx="399" cy="641.75" r="1.25" fill="#111"/><circle cx="451" cy="641.75" r="1.25" fill="#111"/>
<circle cx="399.7" cy="641.55" r="5.6" fill="none" stroke="#2e2e2e" stroke-width="0.8"/>
<circle cx="450.3" cy="641.55" r="5.6" fill="none" stroke="#2e2e2e" stroke-width="0.8"/>
<path d="M384.3 352.3V368.3M460.5 352.3V368.3" stroke="#444" stroke-width="0.9" fill="none"/>
<path d="M387.3 356.4H457.5" stroke="#7a7a7a" stroke-width="1.55" fill="none"/>
<path d="M384.5 356.4L390.5 353.6L390.5 359.2ZM460.3 356.4L454.3 353.6L454.3 359.2Z" fill="#000"/>
<path d="M232.2 349.8V388.6M612.6 349.8V388.6" stroke="#787878" stroke-width="1.4" fill="none"/>
<path d="M235.2 379.8H609.6" stroke="#7a7a7a" stroke-width="1.55" fill="none"/>
<path d="M232.4 379.8L238.4 377L238.4 382.6ZM612.4 379.8L606.4 377L606.4 382.6Z" fill="#000"/>
<path d="M400.1 752.9V769.8M449.1 752.9V769.8" stroke="#7a7a7a" stroke-width="1.3" fill="none"/>
<path d="M403.1 757H446.1" stroke="#8a8a8a" stroke-width="1.3" fill="none"/>
<path d="M400.3 757L406.3 754.2L406.3 759.8ZM448.9 757L442.9 754.2L442.9 759.8Z" fill="#000"/>
<path d="M233.6 750.4V789.9M614.3 750.4V789.9" stroke="#5e5e5e" stroke-width="1" fill="none"/>
<path d="M236.6 780.7H611.3" stroke="#606060" stroke-width="1.1" fill="none"/>
<path d="M233.8 780.7L239.8 777.9L239.8 783.5ZM614.1 780.7L608.1 777.9L608.1 783.5Z" fill="#000"/>
<text x="5" y="18.7" font-family="Liberation Sans" font-size="31" font-weight="bold">a</text>
<text x="4.6" y="418.8" font-family="Liberation Sans" font-size="31" font-weight="bold">b</text>
<text x="450" y="93.2" font-family="Liberation Serif" font-size="13.6" font-style="italic" textLength="168.2" lengthAdjust="spacingAndGlyphs" fill="#111" stroke="#111" stroke-width="0.28">Area of opaque region (O)</text>
<text x="622.5" y="93.2" font-family="Liberation Serif" font-size="14" textLength="29" lengthAdjust="spacingAndGlyphs" fill="#111" stroke="#111" stroke-width="0.28">= 50</text>
<text x="352.2" y="121" font-family="Liberation Serif" font-size="13.6" font-style="italic" textLength="197.4" lengthAdjust="spacingAndGlyphs" fill="#111" stroke="#111" stroke-width="0.28">Area of transparent region (T)</text>
<text x="554.5" y="121" font-family="Liberation Serif" font-size="14" textLength="29.2" lengthAdjust="spacingAndGlyphs" fill="#111" stroke="#111" stroke-width="0.28">= 50</text>
<text x="353.8" y="495.3" font-family="Liberation Serif" font-size="13.6" font-style="italic" textLength="167.2" lengthAdjust="spacingAndGlyphs" fill="#111" stroke="#111" stroke-width="0.28">Area of opaque region (O)</text>
<text x="525.3" y="495.3" font-family="Liberation Serif" font-size="14" textLength="29.8" lengthAdjust="spacingAndGlyphs" fill="#111" stroke="#111" stroke-width="0.28">= 66</text>
<text x="312.2" y="522.6" font-family="Liberation Serif" font-size="13.6" font-style="italic" textLength="197.1" lengthAdjust="spacingAndGlyphs" fill="#111" stroke="#111" stroke-width="0.28">Area of transparent region (T)</text>
<text x="514.1" y="522.6" font-family="Liberation Serif" font-size="14" textLength="29.6" lengthAdjust="spacingAndGlyphs" fill="#111" stroke="#111" stroke-width="0.28">= 34</text>
<text x="477.4" y="183.8" font-family="Liberation Serif" font-size="13.6" font-style="italic" textLength="263.5" lengthAdjust="spacingAndGlyphs" fill="#111" stroke="#111" stroke-width="0.28">Power portion of main focusing area (M)</text>
<text x="477.4" y="200.8" font-family="Liberation Serif" font-size="14" textLength="40.5" lengthAdjust="spacingAndGlyphs" fill="#111" stroke="#111" stroke-width="0.28">= 29.9</text>
<text x="514.2" y="287.8" font-family="Liberation Serif" font-size="13.6" font-style="italic" textLength="170" lengthAdjust="spacingAndGlyphs" fill="#111" stroke="#111" stroke-width="0.28">Residual power portion (S)</text>
<text x="514.2" y="304.2" font-family="Liberation Serif" font-size="14" textLength="31.6" lengthAdjust="spacingAndGlyphs" fill="#111" stroke="#111" stroke-width="0.28">= 6.6</text>
<text x="484.6" y="585.9" font-family="Liberation Serif" font-size="13.6" font-style="italic" textLength="263.5" lengthAdjust="spacingAndGlyphs" fill="#111" stroke="#111" stroke-width="0.28">Power portion of main focusing area (M)</text>
<text x="484.6" y="602.2" font-family="Liberation Serif" font-size="14" textLength="40.5" lengthAdjust="spacingAndGlyphs" fill="#111" stroke="#111" stroke-width="0.28">= 26.4</text>
<text x="513.4" y="689.8" font-family="Liberation Serif" font-size="13.6" font-style="italic" textLength="170" lengthAdjust="spacingAndGlyphs" fill="#111" stroke="#111" stroke-width="0.28">Residual power portion (S)</text>
<text x="513.4" y="705.6" font-family="Liberation Serif" font-size="14" textLength="31.6" lengthAdjust="spacingAndGlyphs" fill="#111" stroke="#111" stroke-width="0.28">= 7.5</text>
<text x="271.6" y="289.7" font-family="Liberation Serif" font-size="15.5" font-style="italic" textLength="61.3" lengthAdjust="spacingAndGlyphs" fill="#111" stroke="#111" stroke-width="0.28">side lobes</text>
<text x="276.8" y="698.6" font-family="Liberation Serif" font-size="15.5" font-style="italic" textLength="61.6" lengthAdjust="spacingAndGlyphs" fill="#111" stroke="#111" stroke-width="0.28">side lobes</text>
<text x="465" y="235.2" font-family="Liberation Sans" font-size="11" font-weight="bold" textLength="33.8" lengthAdjust="spacingAndGlyphs" stroke="#000" stroke-width="0.3">FWHM</text>
<text x="457.2" y="635.5" font-family="Liberation Sans" font-size="11" font-weight="bold" textLength="33.6" lengthAdjust="spacingAndGlyphs" stroke="#000" stroke-width="0.3">FWHM</text>
<text x="224.2" y="151.2" font-family="Liberation Sans" font-size="14" text-anchor="end">30</text>
<text x="220.6" y="334.6" font-family="Liberation Sans" font-size="14" text-anchor="end">0</text>
<text x="232.2" y="346.2" font-family="Liberation Sans" font-size="14" text-anchor="middle">-3</text>
<text x="613.4" y="346.2" font-family="Liberation Sans" font-size="14" text-anchor="middle">3</text>
<text x="422.7" y="346.8" font-family="Liberation Sans" font-size="14" text-anchor="middle" textLength="131.6" lengthAdjust="spacing">Lateral position (mm)</text>
<text x="225.2" y="552.2" font-family="Liberation Sans" font-size="14" text-anchor="end">40</text>
<text x="221.6" y="735.8" font-family="Liberation Sans" font-size="14" text-anchor="end">0</text>
<text x="233.8" y="748" font-family="Liberation Sans" font-size="14" text-anchor="middle">-3</text>
<text x="615.2" y="748" font-family="Liberation Sans" font-size="14" text-anchor="middle">3</text>
<text x="424.5" y="747.5" font-family="Liberation Sans" font-size="14" text-anchor="middle" textLength="131.6" lengthAdjust="spacing">Lateral position (mm)</text>
<text x="205.6" y="240.9" font-family="Liberation Sans" font-size="14" text-anchor="middle" textLength="109.4" lengthAdjust="spacing" transform="rotate(-90 205.6 240.9)">Acoustic intensity</text>
<text x="224" y="240.9" font-family="Liberation Serif" font-size="14.5" text-anchor="middle" transform="rotate(-90 224 240.9)" fill="#111" stroke="#111" stroke-width="0.12" textLength="93" lengthAdjust="spacingAndGlyphs"><tspan font-size="16.5" dy="1">(</tspan><tspan dy="-1">|</tspan><tspan font-style="italic">p</tspan>|<tspan font-size="10" dy="-5.4">2</tspan><tspan dy="5.4"> /2</tspan><tspan font-style="italic">ρ</tspan><tspan font-style="italic" font-size="10.5" dy="2.8">w</tspan><tspan font-style="italic" dy="-2.8">c</tspan><tspan font-style="italic" font-size="10.5" dy="2.8">w</tspan><tspan font-size="16.5" dy="-1.8">)</tspan></text>
<text x="207.4" y="639.6" font-family="Liberation Sans" font-size="14" text-anchor="middle" textLength="109.4" lengthAdjust="spacing" transform="rotate(-90 207.4 639.6)">Acoustic intensity</text>
<text x="226.2" y="639.6" font-family="Liberation Serif" font-size="14.5" text-anchor="middle" transform="rotate(-90 226.2 639.6)" fill="#111" stroke="#111" stroke-width="0.12" textLength="93" lengthAdjust="spacingAndGlyphs"><tspan font-size="16.5" dy="1">(</tspan><tspan dy="-1">|</tspan><tspan font-style="italic">p</tspan>|<tspan font-size="10" dy="-5.4">2</tspan><tspan dy="5.4"> /2</tspan><tspan font-style="italic">ρ</tspan><tspan font-style="italic" font-size="10.5" dy="2.8">w</tspan><tspan font-style="italic" dy="-2.8">c</tspan><tspan font-style="italic" font-size="10.5" dy="2.8">w</tspan><tspan font-size="16.5" dy="-1.8">)</tspan></text>
<text x="412" y="371" font-family="Liberation Serif" font-size="16.5" font-style="italic" fill="#111" stroke="#111" stroke-width="0.25">S<tspan font-size="11" dy="3.4" dx="0.6">M</tspan></text>
<text x="412" y="393.8" font-family="Liberation Serif" font-size="16.5" font-style="italic" fill="#111" stroke="#111" stroke-width="0.25">S<tspan font-size="11" dy="3.4" dx="0.6">E</tspan></text>
<text x="414.2" y="771.6" font-family="Liberation Serif" font-size="16.5" font-style="italic" fill="#111" stroke="#111" stroke-width="0.25">S<tspan font-size="11" dy="3.4" dx="0.6">M</tspan></text>
<text x="414.2" y="794.4" font-family="Liberation Serif" font-size="16.5" font-style="italic" fill="#111" stroke="#111" stroke-width="0.25">S<tspan font-size="11" dy="3.4" dx="0.6">E</tspan></text>
<text x="2.3" y="69.6" font-family="Liberation Serif" font-size="13.2" font-style="italic" fill="#1c1c1c" stroke="#1c1c1c" stroke-width="0.25">f</text>
<text x="11.2" y="64.9" font-family="Liberation Serif" font-size="10" font-style="italic" fill="#1c1c1c" stroke="#1c1c1c" stroke-width="0.25">t</text>
<text x="7.3" y="72.6" font-family="Liberation Serif" font-size="10" font-style="italic" textLength="12.8" lengthAdjust="spacingAndGlyphs" fill="#1c1c1c" stroke="#1c1c1c" stroke-width="0.25">AP</text>
<path d="M26.2 64.8H34.9M26.2 68H34.9" stroke="#1c1c1c" stroke-width="1.12" fill="none"/>
<path d="M39.6 65.5H74.2" stroke="#1c1c1c" stroke-width="0.95" fill="none"/>
<text x="56.9" y="59.3" font-family="Liberation Serif" font-size="13.6" text-anchor="middle" textLength="8" lengthAdjust="spacingAndGlyphs" fill="#1c1c1c" stroke="#1c1c1c" stroke-width="0.25">T</text>
<text x="40.3" y="79.2" font-family="Liberation Serif" font-size="13.6" textLength="8.9" lengthAdjust="spacingAndGlyphs" fill="#1c1c1c" stroke="#1c1c1c" stroke-width="0.25">O</text>
<path d="M52.9 74H61.1M57 69.9V78.1" stroke="#1c1c1c" stroke-width="1" fill="none"/>
<text x="65.9" y="79.2" font-family="Liberation Serif" font-size="13.6" textLength="8" lengthAdjust="spacingAndGlyphs" fill="#1c1c1c" stroke="#1c1c1c" stroke-width="0.25">T</text>
<path d="M78.6 64.8H87.3M78.6 68H87.3" stroke="#1c1c1c" stroke-width="1.12" fill="none"/>
<path d="M91.6 65.5H139.2" stroke="#1c1c1c" stroke-width="0.95" fill="none"/>
<text x="115.4" y="59.3" font-family="Liberation Serif" font-size="13.6" text-anchor="middle" textLength="14" lengthAdjust="spacingAndGlyphs" fill="#1c1c1c" stroke="#1c1c1c" stroke-width="0.25">50</text>
<text x="92.5" y="79.2" font-family="Liberation Serif" font-size="13.6" textLength="14" lengthAdjust="spacingAndGlyphs" fill="#1c1c1c" stroke="#1c1c1c" stroke-width="0.25">50</text>
<path d="M111.5 74H119.7M115.6 69.9V78.1" stroke="#1c1c1c" stroke-width="1" fill="none"/>
<text x="124.6" y="79.2" font-family="Liberation Serif" font-size="13.6" textLength="14" lengthAdjust="spacingAndGlyphs" fill="#1c1c1c" stroke="#1c1c1c" stroke-width="0.25">50</text>
<path d="M143.8 64.8H152.5M143.8 68H152.5" stroke="#1c1c1c" stroke-width="1.12" fill="none"/>
<text x="158.2" y="69.9" font-family="Liberation Serif" font-size="13.6" textLength="25.2" lengthAdjust="spacingAndGlyphs" fill="#1c1c1c" stroke="#1c1c1c" stroke-width="0.25">0.50</text>
<text x="2.3" y="162.4" font-family="Liberation Serif" font-size="13.2" font-style="italic" fill="#1c1c1c" stroke="#1c1c1c" stroke-width="0.25">f</text>
<text x="11.2" y="155.9" font-family="Liberation Serif" font-size="10" font-style="italic" fill="#1c1c1c" stroke="#1c1c1c" stroke-width="0.25">f</text>
<text x="7.3" y="166" font-family="Liberation Serif" font-size="10" font-style="italic" textLength="12.8" lengthAdjust="spacingAndGlyphs" fill="#1c1c1c" stroke="#1c1c1c" stroke-width="0.25">AP</text>
<path d="M26.2 157.6H34.9M26.2 160.8H34.9" stroke="#1c1c1c" stroke-width="1.12" fill="none"/>
<path d="M39.2 158.3H74.3" stroke="#1c1c1c" stroke-width="0.95" fill="none"/>
<text x="56.75" y="152.1" font-family="Liberation Serif" font-size="13.6" text-anchor="middle" textLength="10.2" lengthAdjust="spacingAndGlyphs" fill="#1c1c1c" stroke="#1c1c1c" stroke-width="0.25">M</text>
<text x="40.2" y="172" font-family="Liberation Serif" font-size="13.6" textLength="10.2" lengthAdjust="spacingAndGlyphs" fill="#1c1c1c" stroke="#1c1c1c" stroke-width="0.25">M</text>
<path d="M55 166.8H63.2M59.1 162.7V170.9" stroke="#1c1c1c" stroke-width="1" fill="none"/>
<text x="67.6" y="172" font-family="Liberation Serif" font-size="13.6" textLength="7.2" lengthAdjust="spacingAndGlyphs" fill="#1c1c1c" stroke="#1c1c1c" stroke-width="0.25">S</text>
<path d="M79.2 157.6H87.9M79.2 160.8H87.9" stroke="#1c1c1c" stroke-width="1.12" fill="none"/>
<path d="M92.6 158.3H153.7" stroke="#1c1c1c" stroke-width="0.95" fill="none"/>
<text x="123.15" y="152.1" font-family="Liberation Serif" font-size="13.6" text-anchor="middle" textLength="24.7" lengthAdjust="spacingAndGlyphs" fill="#1c1c1c" stroke="#1c1c1c" stroke-width="0.25">29.9</text>
<text x="93.4" y="172" font-family="Liberation Serif" font-size="13.6" textLength="24.9" lengthAdjust="spacingAndGlyphs" fill="#1c1c1c" stroke="#1c1c1c" stroke-width="0.25">29.9</text>
<path d="M122.7 166.8H130.9M126.8 162.7V170.9" stroke="#1c1c1c" stroke-width="1" fill="none"/>
<text x="136.1" y="172" font-family="Liberation Serif" font-size="13.6" textLength="17.2" lengthAdjust="spacingAndGlyphs" fill="#1c1c1c" stroke="#1c1c1c" stroke-width="0.25">6.6</text>
<path d="M158.4 156.1C159.74 154.1 161.52 154.5 162.85 155.3S165.97 156.5 167.3 154.5" stroke="#1c1c1c" stroke-width="1" fill="none"/>
<path d="M158.4 158.8H167.3M158.4 161.6H167.3" stroke="#1c1c1c" stroke-width="1" fill="none"/>
<text x="172.7" y="162.7" font-family="Liberation Serif" font-size="13.6" textLength="24.5" lengthAdjust="spacingAndGlyphs" fill="#1c1c1c" stroke="#1c1c1c" stroke-width="0.25">0.82</text>
<text x="4" y="471.1" font-family="Liberation Serif" font-size="13.2" font-style="italic" fill="#1c1c1c" stroke="#1c1c1c" stroke-width="0.25">f</text>
<text x="12.9" y="466.4" font-family="Liberation Serif" font-size="10" font-style="italic" fill="#1c1c1c" stroke="#1c1c1c" stroke-width="0.25">t</text>
<text x="9" y="474.1" font-family="Liberation Serif" font-size="10" font-style="italic" textLength="12.8" lengthAdjust="spacingAndGlyphs" fill="#1c1c1c" stroke="#1c1c1c" stroke-width="0.25">AP</text>
<path d="M27.9 466.3H36.6M27.9 469.5H36.6" stroke="#1c1c1c" stroke-width="1.12" fill="none"/>
<path d="M41.3 467H75.9" stroke="#1c1c1c" stroke-width="0.95" fill="none"/>
<text x="58.6" y="460.8" font-family="Liberation Serif" font-size="13.6" text-anchor="middle" textLength="8" lengthAdjust="spacingAndGlyphs" fill="#1c1c1c" stroke="#1c1c1c" stroke-width="0.25">T</text>
<text x="42" y="480.7" font-family="Liberation Serif" font-size="13.6" textLength="8.9" lengthAdjust="spacingAndGlyphs" fill="#1c1c1c" stroke="#1c1c1c" stroke-width="0.25">O</text>
<path d="M54.6 475.5H62.8M58.7 471.4V479.6" stroke="#1c1c1c" stroke-width="1" fill="none"/>
<text x="67.6" y="480.7" font-family="Liberation Serif" font-size="13.6" textLength="8" lengthAdjust="spacingAndGlyphs" fill="#1c1c1c" stroke="#1c1c1c" stroke-width="0.25">T</text>
<path d="M80.3 466.3H89M80.3 469.5H89" stroke="#1c1c1c" stroke-width="1.12" fill="none"/>
<path d="M93.3 467H140.9" stroke="#1c1c1c" stroke-width="0.95" fill="none"/>
<text x="117.1" y="460.8" font-family="Liberation Serif" font-size="13.6" text-anchor="middle" textLength="14" lengthAdjust="spacingAndGlyphs" fill="#1c1c1c" stroke="#1c1c1c" stroke-width="0.25">34</text>
<text x="94.2" y="480.7" font-family="Liberation Serif" font-size="13.6" textLength="14" lengthAdjust="spacingAndGlyphs" fill="#1c1c1c" stroke="#1c1c1c" stroke-width="0.25">66</text>
<path d="M113.2 475.5H121.4M117.3 471.4V479.6" stroke="#1c1c1c" stroke-width="1" fill="none"/>
<text x="126.3" y="480.7" font-family="Liberation Serif" font-size="13.6" textLength="14" lengthAdjust="spacingAndGlyphs" fill="#1c1c1c" stroke="#1c1c1c" stroke-width="0.25">34</text>
<path d="M145.5 466.3H154.2M145.5 469.5H154.2" stroke="#1c1c1c" stroke-width="1.12" fill="none"/>
<text x="159.9" y="471.4" font-family="Liberation Serif" font-size="13.6" textLength="25.2" lengthAdjust="spacingAndGlyphs" fill="#1c1c1c" stroke="#1c1c1c" stroke-width="0.25">0.34</text>
<text x="4.3" y="563.7" font-family="Liberation Serif" font-size="13.2" font-style="italic" fill="#1c1c1c" stroke="#1c1c1c" stroke-width="0.25">f</text>
<text x="13.2" y="557.2" font-family="Liberation Serif" font-size="10" font-style="italic" fill="#1c1c1c" stroke="#1c1c1c" stroke-width="0.25">f</text>
<text x="9.3" y="567.3" font-family="Liberation Serif" font-size="10" font-style="italic" textLength="12.8" lengthAdjust="spacingAndGlyphs" fill="#1c1c1c" stroke="#1c1c1c" stroke-width="0.25">AP</text>
<path d="M28.2 558.9H36.9M28.2 562.1H36.9" stroke="#1c1c1c" stroke-width="1.12" fill="none"/>
<path d="M41.2 559.6H76.3" stroke="#1c1c1c" stroke-width="0.95" fill="none"/>
<text x="58.75" y="553.4" font-family="Liberation Serif" font-size="13.6" text-anchor="middle" textLength="10.2" lengthAdjust="spacingAndGlyphs" fill="#1c1c1c" stroke="#1c1c1c" stroke-width="0.25">M</text>
<text x="42.2" y="573.3" font-family="Liberation Serif" font-size="13.6" textLength="10.2" lengthAdjust="spacingAndGlyphs" fill="#1c1c1c" stroke="#1c1c1c" stroke-width="0.25">M</text>
<path d="M57 568.1H65.2M61.1 564V572.2" stroke="#1c1c1c" stroke-width="1" fill="none"/>
<text x="69.6" y="573.3" font-family="Liberation Serif" font-size="13.6" textLength="7.2" lengthAdjust="spacingAndGlyphs" fill="#1c1c1c" stroke="#1c1c1c" stroke-width="0.25">S</text>
<path d="M81.2 558.9H89.9M81.2 562.1H89.9" stroke="#1c1c1c" stroke-width="1.12" fill="none"/>
<path d="M94.6 559.6H155.7" stroke="#1c1c1c" stroke-width="0.95" fill="none"/>
<text x="125.15" y="553.4" font-family="Liberation Serif" font-size="13.6" text-anchor="middle" textLength="24.7" lengthAdjust="spacingAndGlyphs" fill="#1c1c1c" stroke="#1c1c1c" stroke-width="0.25">26.4</text>
<text x="95.4" y="573.3" font-family="Liberation Serif" font-size="13.6" textLength="24.9" lengthAdjust="spacingAndGlyphs" fill="#1c1c1c" stroke="#1c1c1c" stroke-width="0.25">26.4</text>
<path d="M124.7 568.1H132.9M128.8 564V572.2" stroke="#1c1c1c" stroke-width="1" fill="none"/>
<text x="138.1" y="573.3" font-family="Liberation Serif" font-size="13.6" textLength="17.2" lengthAdjust="spacingAndGlyphs" fill="#1c1c1c" stroke="#1c1c1c" stroke-width="0.25">7.5</text>
<path d="M160.4 557.4C161.74 555.4 163.52 555.8 164.85 556.6S167.97 557.8 169.3 555.8" stroke="#1c1c1c" stroke-width="1" fill="none"/>
<path d="M160.4 560.1H169.3M160.4 562.9H169.3" stroke="#1c1c1c" stroke-width="1" fill="none"/>
<text x="174.7" y="564" font-family="Liberation Serif" font-size="13.6" textLength="24.5" lengthAdjust="spacingAndGlyphs" fill="#1c1c1c" stroke="#1c1c1c" stroke-width="0.25">0.78</text>
</svg>
</body>
</html>
